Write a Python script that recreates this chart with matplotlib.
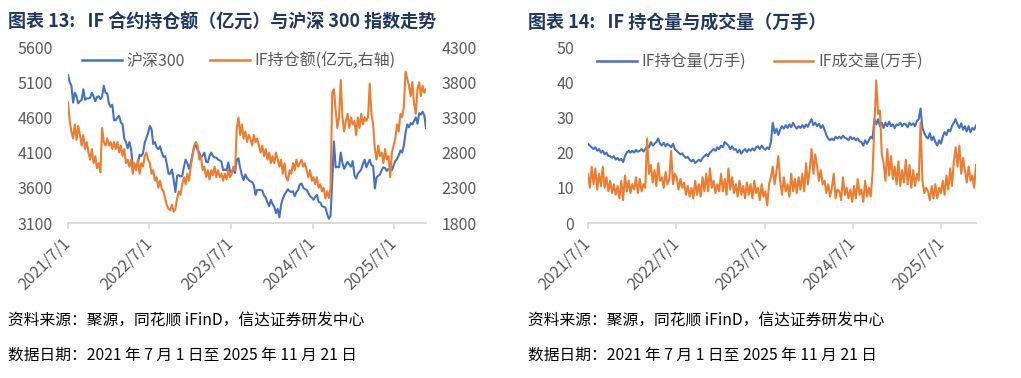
import matplotlib
matplotlib.use("Agg")
import matplotlib.pyplot as plt
import matplotlib.lines as mlines
import pandas as pd

plt.rcParams['font.family'] = ['Noto Sans CJK SC', 'DejaVu Sans']

# ---------------- data (approx. weekly samples, Jul-2021 .. 21-Nov-2025) ----------------
start_date = "2021-07-01"
end_date = "2025-11-21"

# 沪深300 (left axis)
hs300 = [
    5200, 5100, 5050, 4810,  4950, 4900, 4800, 4830,  4850, 5000, 4850, 4870,
    4870, 4880, 4950, 4900,  4830, 4890, 4900, 4860,  4900, 5050, 4950, 4940,
    # 2022
    4800, 4750, 4780, 4560,  4560, 4600, 4620, 4530,  4500, 4300, 4250, 4160,
    4250, 4150, 3900, 3920,  3910, 3950, 4070, 4050,  4090, 4240, 4310, 4380,
    4480, 4430, 4220, 4250,  4170, 4150, 4190, 4100,  4040, 4050, 3930, 3800,
    3800, 3860, 3710, 3540,  3770, 3780, 3760, 3770,  3900, 4000, 3950, 3870,
    # 2023
    3950, 4070, 4180, 4200,  4140, 4100, 4030, 4060,  4100, 3970, 3960, 4050,
    4100, 4050, 4030, 4030,  4000, 3990, 3970, 3850,  3860, 3850, 3960, 3840,
    3820, 3870, 3810, 4000,  4020, 3880, 3780, 3710,  3790, 3740, 3710, 3690,
    3680, 3640, 3500, 3570,  3570, 3570, 3560, 3490,  3460, 3390, 3340, 3430,
    # 2024
    3370, 3330, 3240, 3300,  3180, 3360, 3450, 3500,  3540, 3580, 3550, 3540,
    3550, 3480, 3540, 3570,  3650, 3660, 3600, 3580,  3570, 3530, 3480, 3460,
    3430, 3470, 3500, 3400,  3390, 3340, 3330, 3320,  3230, 3160, 3200, 3700,
    4260, 3890, 3900, 3890,  4100, 3950, 3870, 3920,  3970, 3930, 3900, 3980,
    # 2025
    3780, 3730, 3800, 3830,  3860, 3940, 4000, 3890,  3950, 4000, 3920, 3910,
    3590, 3750, 3770, 3790,  3850, 3890, 3880, 3840,  3870, 3860, 3850, 3920,
    3980, 4010, 4060, 4130,  4100, 4200, 4380, 4500,  4460, 4520, 4500, 4550,
    4600, 4510, 4660, 4640,  4680, 4630, 4450,
]

# IF持仓额 (亿元, right axis)
if_oi_amount = [
    3520, 3250, 3100, 3000,  3200, 2980, 3180, 3050,  2900, 3050, 2850, 2950,
    2800, 2700, 2850, 2650,  2750, 2580, 2650, 2520,  3150, 2950, 2900, 3000,
    # 2022
    2900, 2950, 2850, 2950,  2850, 2950, 2800, 2900,  2750, 2850, 2650, 2700,
    2600, 2700, 2500, 2650,  2550, 2700, 2500, 2650,  2600, 2750, 2800, 2700,
    2650, 2500, 2550, 2400,  2450, 2300, 2400, 2280,  2250, 2150, 2050, 2000,
    1980, 2060, 1960, 2000,  2150, 2250, 2200, 2350,  2450, 2350, 2500, 2400,
    # 2023
    2600, 2750, 2900, 2950,  2900, 2700, 2750, 2550,  2600, 2450, 2550, 2420,
    2550, 2480, 2600, 2450,  2550, 2450, 2500, 2400,  2500, 2420, 2550, 2450,
    2500, 2600, 2550, 3150,  3300, 3050, 3200, 3000,  3100, 2950, 3050, 3000,
    2900, 3050, 2950, 3000,  2900, 2800, 2900, 2750,  2850, 2700, 2800, 2650,
    # 2024
    2750, 2650, 2800, 2700,  2600, 2700, 2500, 2650,  2450, 2400, 2550, 2500,
    2650, 2550, 2700, 2600,  2650, 2700, 2600, 2650,  2550, 2450, 2550, 2400,
    2450, 2350, 2450, 2300,  2350, 2250, 2300, 2150,  2250, 2150, 2300, 3650,
    3700, 3400, 3150, 3300,  3830, 3300, 3100, 3250,  3350, 3150, 3300, 3200,
    # 2025
    3250, 3050, 3300, 3150,  3350, 3200, 3300, 3250,  3300, 3780, 3350, 3200,
    2850, 2700, 2900, 2750,  2800, 2650, 2850, 2700,  2750, 2450, 2800, 2900,
    3000, 3200, 3100, 3350,  3300, 3450, 3950, 3850,  3750, 3600, 3800, 3500,
    3350, 3700, 3800, 3600,  3750, 3650, 3700,
]

# IF持仓量 (万手)
if_oi_lots = [
    22.5, 22.0, 21.5, 21.0,  21.5, 20.5, 21.0, 20.0,  20.5, 19.5, 20.0, 19.0,
    19.0, 18.5, 19.0, 18.0,  18.5, 17.8, 18.2, 17.3,  19.0, 20.0, 20.5, 20.0,
    # 2022
    20.5, 20.0, 20.8, 20.2,  20.5, 21.0, 20.3, 21.0,  22.0, 21.5, 23.0, 22.0,
    22.5, 23.0, 24.0, 22.5,  22.0, 22.8, 21.8, 22.5,  22.0, 21.5, 22.5, 21.0,
    20.5, 20.0, 19.5, 19.8,  19.0, 18.5, 18.8, 18.0,  17.5, 18.0, 17.0, 17.5,
    18.0, 17.5, 18.5, 19.0,  19.5, 19.0, 20.0, 20.5,  21.0, 20.5, 21.5, 21.0,
    # 2023
    22.0, 21.5, 23.0, 22.5,  22.0, 21.0, 21.8, 20.8,  21.0, 20.0, 20.8, 19.7,
    20.5, 21.0, 20.2, 21.0,  20.5, 21.2, 20.6, 21.5,  21.8, 21.0, 22.0, 21.2,
    20.8, 21.5, 21.0, 23.0,  28.5, 25.5, 26.8, 25.0,  26.5, 27.5, 26.8, 27.8,
    27.0, 28.0, 27.2, 28.5,  27.5, 26.8, 27.5, 27.0,  27.8, 27.0, 28.0, 27.3,
    # 2024
    28.5, 29.5, 27.8, 28.5,  27.5, 28.2, 27.0, 27.8,  26.5, 25.0, 24.0, 23.5,
    24.0, 23.5, 24.5, 24.0,  24.5, 24.0, 24.8, 24.2,  24.0, 23.5, 24.5, 23.8,
    24.2, 23.5, 24.0, 23.2,  23.0, 22.0, 23.5, 22.5,  23.5, 24.5, 24.0, 29.5,
    28.0, 29.5, 27.5, 28.5,  27.0, 28.5, 27.5, 28.8,  27.5, 28.0, 27.0, 28.0,
    # 2025
    27.8, 28.5, 27.5, 28.2,  28.0, 27.2, 28.5, 27.8,  28.3, 27.5, 29.0, 29.5,
    32.5, 27.0, 25.5, 24.5,  24.0, 25.5, 23.5, 24.5,  23.0, 22.0, 23.5, 22.5,
    24.5, 25.8, 25.0, 26.5,  26.0, 27.5, 28.5, 29.5,  28.0, 27.0, 28.3, 26.5,
    27.5, 26.0, 27.5, 25.8,  27.0, 26.5, 27.7,
]

# IF成交量 (万手)
if_volume = [
    14.0, 10.0, 16.0, 11.0,  15.5, 9.5, 14.0, 10.5,  16.0, 10.0, 13.0, 9.0,
    12.0, 8.5, 11.0, 8.0,  10.5, 7.0, 12.0, 6.5,  13.5, 9.0, 12.0, 8.5,
    # 2022
    11.0, 9.5, 13.0, 8.5,  12.5, 9.0, 11.0, 10.0,  24.0, 14.0, 16.5, 11.5,
    15.0, 10.5, 17.0, 12.0,  13.0, 10.0, 14.5, 11.0,  12.5, 20.5, 11.0, 14.0,
    13.0, 9.5, 12.5, 10.0,  11.5, 8.0, 10.5, 7.5,  10.0, 7.0, 12.0, 8.0,
    11.0, 7.5, 13.0, 9.0,  14.0, 9.0, 15.5, 10.0,  12.0, 8.5, 11.0, 9.0,
    # 2023
    14.0, 9.0, 12.5, 8.0,  15.5, 9.5, 13.0, 8.5,  11.0, 7.5, 12.0, 8.0,
    10.5, 7.0, 11.5, 8.0,  11.0, 7.0, 12.0, 8.5,  10.0, 6.5, 11.0, 7.5,
    9.0, 5.0, 11.0, 13.0,  16.0, 11.0, 14.5, 19.0,  12.0, 8.0, 13.0, 9.0,
    11.0, 7.5, 14.0, 9.0,  12.5, 8.5, 13.0, 9.5,  14.0, 9.0, 17.0, 11.0,
    # 2024
    15.0, 21.0, 14.0, 19.5,  16.0, 12.0, 15.0, 11.0,  12.0, 8.5, 11.0, 7.5,
    10.0, 14.0, 7.0, 9.5,  9.0, 6.5, 13.0, 8.0,  10.0, 7.0, 9.5, 6.0,
    10.5, 7.0, 12.5, 8.0,  9.5, 6.0, 12.0, 7.5,  10.0, 7.5, 14.0, 28.0,
    40.5, 31.0, 32.0, 19.5,  17.0, 12.0, 21.0, 13.5,  19.0, 12.5, 16.0, 11.0,
    # 2025
    17.5, 10.5, 15.0, 11.5,  18.0, 11.0, 16.5, 10.0,  15.0, 10.5, 14.0, 12.0,
    28.5, 12.0, 8.5, 10.0,  9.0, 6.5, 10.5, 7.0,  11.0, 7.0, 10.0, 8.5,
    12.0, 8.0, 13.5, 9.5,  15.5, 10.5, 17.5, 21.5,  16.0, 22.0, 14.0, 18.5,
    15.0, 11.5, 16.0, 12.0,  13.5, 10.0, 16.5,
]

tick_dates = ["2021-07-01", "2022-07-01", "2023-07-01", "2024-07-01", "2025-07-01"]
tick_labels = ["2021/7/1", "2022/7/1", "2023/7/1", "2024/7/1", "2025/7/1"]

title_left = "图表 13:   IF 合约持仓额（亿元）与沪深 300 指数走势"
title_right = "图表 14:   IF 持仓量与成交量（万手）"
source_text = "资料来源：聚源，同花顺 iFinD，信达证券研发中心"
date_text = "数据日期：2021 年 7 月 1 日至 2025 年 11 月 21 日"

BLUE = "#4472C4"
ORANGE = "#ED7D31"
GRAY_TXT = "#595959"
AXIS_GRAY = "#D9D9D9"
NAVY = "#1F3864"

W, H = 1021, 378
fig = plt.figure(figsize=(W / 100, H / 100), dpi=100)


def dates_for(vals):
    return pd.date_range(start_date, end_date, periods=len(vals))


def frac_axes(x0, x1, ytop, ybot):
    return fig.add_axes([x0 / W, 1 - ybot / H, (x1 - x0) / W, (ybot - ytop) / H])


def style_xaxis(ax):
    ax.set_xlim(pd.Timestamp(start_date), pd.Timestamp(end_date))
    ax.set_xticks([pd.Timestamp(d) for d in tick_dates])
    ax.set_xticklabels(tick_labels, rotation=45, ha="right", va="center",
                       rotation_mode="anchor", fontsize=11.5, color=GRAY_TXT)
    ax.tick_params(axis="x", direction="out", length=4, width=1.2,
                   color=AXIS_GRAY, pad=9)
    for s in ["top", "left", "right"]:
        ax.spines[s].set_visible(False)
    ax.spines["bottom"].set_color(AXIS_GRAY)
    ax.spines["bottom"].set_linewidth(1.3)


LW = 1.5
FS = 11.5

# ---------------- left chart ----------------
axL = frac_axes(68, 426, 47, 223)
axL.plot(dates_for(hs300), hs300, color=BLUE, lw=LW)
axL.set_ylim(3100, 5600)
axL.set_yticks(range(3100, 5601, 500))
axL.tick_params(axis="y", length=0, pad=11, labelsize=FS, labelcolor=GRAY_TXT)
style_xaxis(axL)

axR = axL.twinx()
axR.plot(dates_for(if_oi_amount), if_oi_amount, color=ORANGE, lw=LW)
axR.set_ylim(1800, 4300)
axR.set_yticks(range(1800, 4301, 500))
axR.tick_params(axis="y", length=0, pad=11, labelsize=FS, labelcolor=GRAY_TXT)
for s in axR.spines.values():
    s.set_visible(False)

hL1 = mlines.Line2D([], [], color=BLUE, lw=1.8)
hL2 = mlines.Line2D([], [], color=ORANGE, lw=1.8)
axR.legend([hL1, hL2], ["沪深300", "IF持仓额(亿元,右轴)"], ncol=2, frameon=False,
           loc="center left", bbox_to_anchor=((82 - 68) / 358, (223 - 61) / 176),
           borderpad=0, borderaxespad=0, handlelength=2.5, handletextpad=0.3,
           columnspacing=1.55, fontsize=FS, labelcolor=GRAY_TXT)

# ---------------- right chart ----------------
ax2 = frac_axes(588, 976, 47, 223)
ax2.plot(dates_for(if_oi_lots), if_oi_lots, color=BLUE, lw=LW)
ax2.plot(dates_for(if_volume), if_volume, color=ORANGE, lw=LW)
ax2.set_ylim(0, 50)
ax2.set_yticks(range(0, 51, 10))
ax2.tick_params(axis="y", length=0, pad=10, labelsize=FS, labelcolor=GRAY_TXT)
style_xaxis(ax2)
hR1 = mlines.Line2D([], [], color=BLUE, lw=1.8)
hR2 = mlines.Line2D([], [], color=ORANGE, lw=1.8)
ax2.legend([hR1, hR2], ["IF持仓量(万手)", "IF成交量(万手)"], ncol=2, frameon=False,
           loc="center left", bbox_to_anchor=((597 - 588) / 388, (223 - 61.7) / 176),
           borderpad=0, borderaxespad=0, handlelength=2.5, handletextpad=0.3,
           columnspacing=1.7, fontsize=FS, labelcolor=GRAY_TXT)

# ---------------- titles & footers ----------------
fig.text(8 / W, 1 - 22 / H, title_left, fontsize=13, fontweight="bold",
         color=NAVY, ha="left", va="center")
fig.text(528 / W, 1 - 22 / H, title_right, fontsize=13, fontweight="bold",
         color=NAVY, ha="left", va="center")
for x0 in (8, 528):
    fig.text(x0 / W, 1 - 321 / H, source_text, fontsize=11.3, color="black",
             ha="left", va="center")
    fig.text(x0 / W, 1 - 355 / H, date_text, fontsize=11.3, color="black",
             ha="left", va="center")

fig.savefig("out.png", dpi=100, facecolor="white")
